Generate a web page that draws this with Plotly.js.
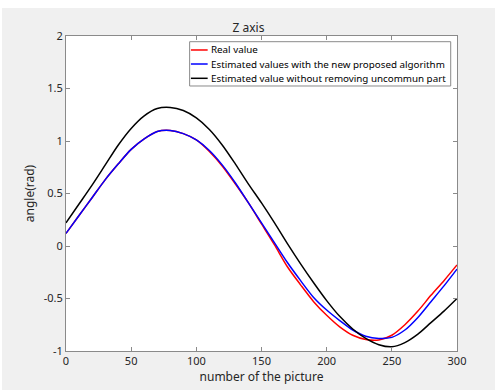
<!DOCTYPE html>
<html>
<head>
<meta charset="utf-8">
<script src="https://cdn.plot.ly/plotly-3.0.1.min.js"></script>
<style>
html,body{margin:0;padding:0;background:#ffffff;}
#chart{position:absolute;left:2px;top:8px;width:493px;height:382px;}
</style>
</head>
<body>
<div id="chart"></div>
<script>
const xs = [0,10,20,30,40,50,60,70,80,90,100,110,120,130,140,150,160,170,180,190,200,210,220,230,240,250,260,270,280,290,300];
const realValue = [0.12,0.29,0.46,0.63,0.78,0.92,1.02,1.09,1.10,1.07,1.01,0.90,0.76,0.59,0.41,0.21,0.01,-0.20,-0.37,-0.53,-0.66,-0.77,-0.85,-0.89,-0.895,-0.85,-0.75,-0.62,-0.47,-0.33,-0.18];
const proposed = [0.12,0.29,0.46,0.63,0.78,0.92,1.02,1.09,1.10,1.07,1.01,0.91,0.77,0.60,0.41,0.22,0.03,-0.16,-0.33,-0.49,-0.61,-0.71,-0.80,-0.86,-0.88,-0.87,-0.80,-0.68,-0.53,-0.38,-0.22];
const withoutRemoving = [0.22,0.40,0.58,0.77,0.96,1.12,1.24,1.31,1.32,1.29,1.22,1.11,0.96,0.78,0.59,0.41,0.22,0.02,-0.17,-0.35,-0.52,-0.67,-0.79,-0.88,-0.94,-0.96,-0.92,-0.84,-0.73,-0.62,-0.50];
const seriesNames = ["Real value","Estimated values with the new proposed algorithm","Estimated value without removing uncommun part"];
const seriesColors = ['#ff0000','#0000ff','#000000'];
const xTicks = [0,50,100,150,200,250,300];
const yTicks = [-1,-0.5,0,0.5,1,1.5,2];
const yTickText = ["-1","-0.5","0","0.5","1","1.5","2"];

const FONT = "Noto Sans, Open Sans, DejaVu Sans, sans-serif";
const mk = (y, name, color) => ({
  x: xs, y: y, name: name, type: 'scatter', mode: 'lines', showlegend: false,
  line: {color: color, width: 1.5, shape: 'spline', smoothing: 0.8}
});
const data = [
  mk(realValue, seriesNames[0], seriesColors[0]),
  mk(proposed, seriesNames[1], seriesColors[1]),
  mk(withoutRemoving, seriesNames[2], seriesColors[2])
];
const axisCommon = {
  showgrid: false, zeroline: false, showline: true, mirror: 'allticks',
  linecolor: '#8a8a8a', linewidth: 1, ticks: 'inside', ticklen: 4,
  tickcolor: '#8a8a8a', tickfont: {family: FONT, size: 11, color: '#262626'}
};

// legend box (drawn in paper coordinates)
const legBox = {x0: 0.3162, x1: 0.9839, y0: 0.8413, y1: 0.9819};
const legRowsY = [0.9556, 0.9111, 0.8657];
const legLineX = [0.3195, 0.3623];
const legTextX = 0.3655;
const shapes = [{type: 'rect', xref: 'paper', yref: 'paper', x0: legBox.x0, x1: legBox.x1, y0: legBox.y0, y1: legBox.y1,
  fillcolor: '#ffffff', line: {color: '#8a8a8a', width: 1}, layer: 'above'}];
const annotations = [];
seriesNames.forEach((n, i) => {
  shapes.push({type: 'line', xref: 'paper', yref: 'paper', x0: legLineX[0], x1: legLineX[1], y0: legRowsY[i], y1: legRowsY[i],
    line: {color: seriesColors[i], width: 1.5}, layer: 'above'});
  annotations.push({xref: 'paper', yref: 'paper', x: legTextX, y: legRowsY[i], xanchor: 'left', yanchor: 'middle',
    text: n, showarrow: false, font: {family: FONT, size: 9.8, color: '#000000'}});
});

const layout = {
  width: 493, height: 382,
  paper_bgcolor: '#f0f0f0', plot_bgcolor: '#ffffff',
  margin: {l: 63.5, r: 38, t: 28, b: 39},
  showlegend: false,
  title: {text: 'Z axis', font: {family: FONT, size: 12, color: '#262626'}, x: 0.5, xanchor: 'center', y: 1 - 19.5/382, yanchor: 'middle'},
  xaxis: Object.assign({}, axisCommon, {
    range: [0, 300], tickvals: xTicks, ticktext: xTicks.map(String),
    title: {text: 'number of the picture', font: {family: FONT, size: 12, color: '#262626'}, standoff: 5}
  }),
  yaxis: Object.assign({}, axisCommon, {
    range: [-1, 2], tickvals: yTicks, ticktext: yTickText,
    title: {text: 'angle(rad)', font: {family: FONT, size: 12, color: '#262626'}, standoff: 6}
  }),
  shapes: shapes,
  annotations: annotations
};
Plotly.newPlot('chart', data, layout, {displayModeBar: false, staticPlot: true});
</script>
</body>
</html>
